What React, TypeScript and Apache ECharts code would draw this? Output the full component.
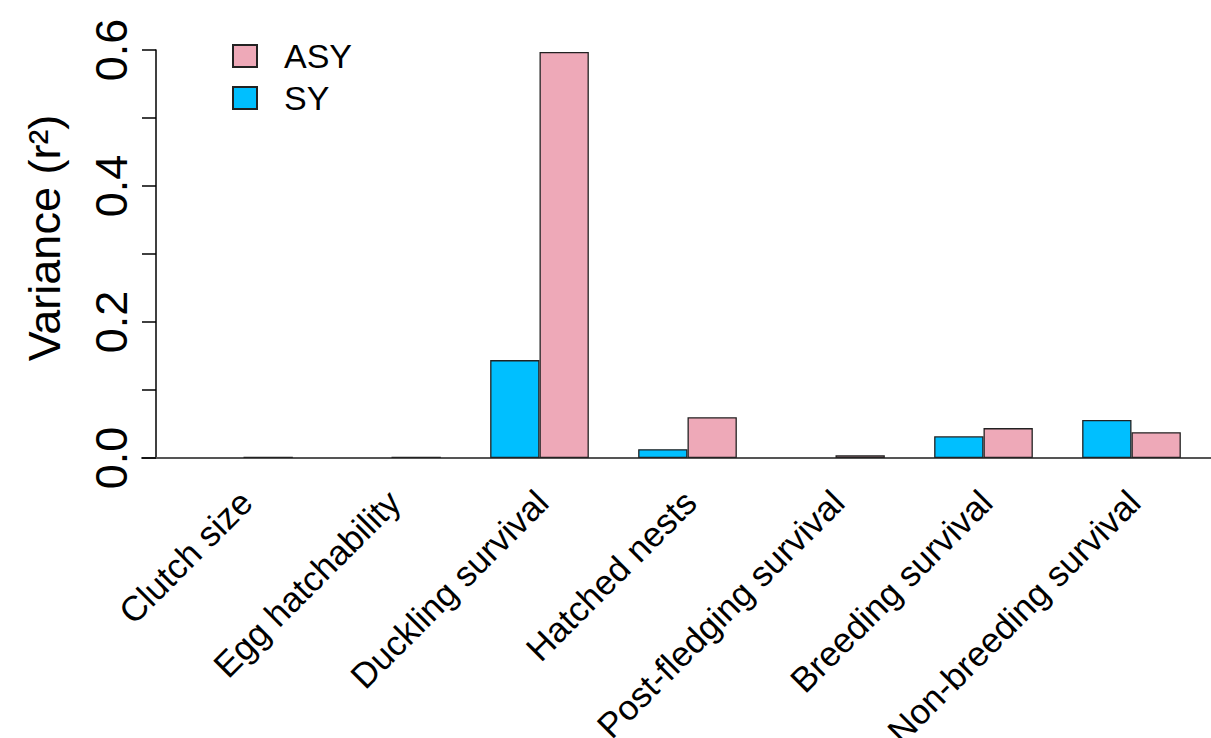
import React, { useEffect, useRef } from "react";
import * as echarts from "echarts";

const categories = [
  "Clutch size",
  "Egg hatchability",
  "Duckling survival",
  "Hatched nests",
  "Post-fledging survival",
  "Breeding survival",
  "Non-breeding survival",
];
const syValues = [0, 0, 0.144, 0.013, 0, 0.032, 0.056];
const asyValues = [0.002, 0.002, 0.597, 0.06, 0.004, 0.044, 0.038];
const yTicks = [0, 0.1, 0.2, 0.3, 0.4, 0.5, 0.6];
const yLabelled = [0, 0.2, 0.4, 0.6];

const FONT = "'Liberation Sans', Arial, Helvetica, sans-serif";
const PINK = "#EEA9B8";
const BLUE = "#00BFFF";
const EDGE = "#222222";

const toBarData = (vals: number[]) =>
  vals.map((v) => (v === 0 ? { value: 0, itemStyle: { borderWidth: 0 } } : v));

export default function App() {
  const ref = useRef<HTMLDivElement>(null);
  useEffect(() => {
    if (!ref.current) return;
    const chart = echarts.init(ref.current, undefined, { renderer: "svg" });
    const yMax = yTicks[yTicks.length - 1];
    const option = {
      animation: false,
      backgroundColor: "#ffffff",
      textStyle: { fontFamily: FONT, color: "#000" },
      grid: [
        { left: 169.5, right: 5.5, top: 50, bottom: 280, outerBoundsMode: "none", containLabel: false },
        { left: 142, right: 0, top: 50, bottom: 280, outerBoundsMode: "none", containLabel: false },
      ],
      legend: {
        data: ["ASY", "SY"],
        orient: "vertical",
        left: 227,
        top: 34,
        itemWidth: 24,
        itemHeight: 22,
        itemGap: 8,
        icon: "rect",
        textStyle: {
          fontFamily: FONT,
          fontSize: 34,
          color: "#000",
          padding: [0, 0, 0, 22],
        },
      },
      xAxis: [
        {
          type: "category",
          gridIndex: 0,
          data: categories,
          axisLine: { show: false },
          axisTick: { show: false },
          axisLabel: {
            interval: 0,
            rotate: 45,
            fontSize: 35,
            fontFamily: FONT,
            color: "#000",
            margin: 16,
            align: "right",
            verticalAlign: "top",
            padding: [0, 14, 0, 0],
          },
        },
        {
          type: "value",
          gridIndex: 1,
          min: 0,
          max: 1,
          axisLine: { show: true, lineStyle: { color: "#555", width: 2 } },
          axisTick: { show: false },
          axisLabel: { show: false },
          splitLine: { show: false },
        },
      ],
      yAxis: [
        {
          type: "value",
          gridIndex: 0,
          min: 0,
          max: yMax,
          interval: 0.1,
          offset: 13.5,
          axisLine: { show: true, lineStyle: { color: "#000", width: 1.5 } },
          axisTick: { show: true, length: 14, lineStyle: { color: "#000", width: 1.5 } },
          splitLine: { show: false },
          axisLabel: {
            rotate: 90,
            fontSize: 45,
            fontFamily: FONT,
            color: "#000",
            margin: 22,
            formatter: (v: number) =>
              yLabelled.some((t) => Math.abs(t - v) < 1e-9) ? v.toFixed(1) : "",
          },
        },
        {
          type: "value",
          gridIndex: 1,
          min: 0,
          max: yMax,
          show: false,
        },
      ],
      series: [
        {
          name: "SY",
          type: "bar",
          xAxisIndex: 0,
          yAxisIndex: 0,
          data: toBarData(syValues),
          barGap: "0%",
          barCategoryGap: "33.33%",
          itemStyle: { color: BLUE, borderColor: EDGE, borderWidth: 1.3 },
        },
        {
          name: "ASY",
          type: "bar",
          xAxisIndex: 0,
          yAxisIndex: 0,
          data: toBarData(asyValues),
          barGap: "0%",
          barCategoryGap: "33.33%",
          itemStyle: { color: PINK, borderColor: EDGE, borderWidth: 1.3 },
        },
      ],
      graphic: [
        {
          type: "text",
          x: 44,
          y: 238,
          rotation: Math.PI / 2,
          style: {
            text: "Variance (r²)",
            fontSize: 45,
            fontFamily: FONT,
            fill: "#000",
            align: "center",
            verticalAlign: "middle",
          },
        },
      ],
    };
    chart.setOption(option as any);
    return () => chart.dispose();
  }, []);
  return (
    <div
      ref={ref}
      style={{ position: "absolute", left: 0, top: 0, width: 1211, height: 738 }}
    />
  );
}
